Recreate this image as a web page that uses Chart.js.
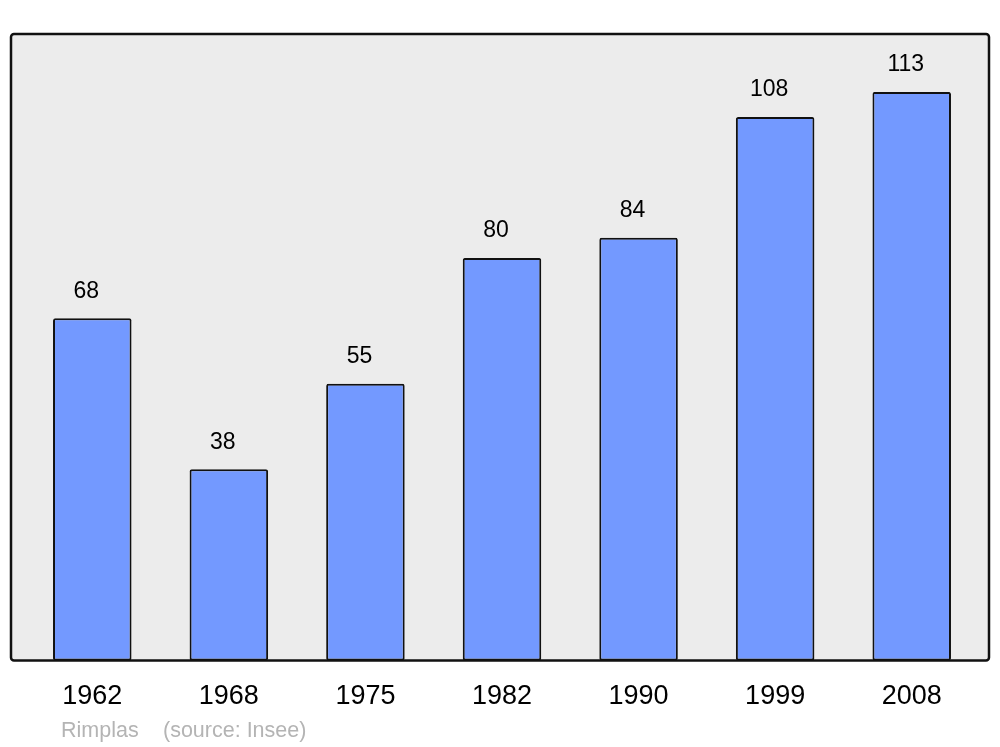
<!DOCTYPE html>
<html>
<head>
<meta charset="utf-8">
<script src="https://cdn.jsdelivr.net/npm/chart.js@4.4.0/dist/chart.umd.min.js"></script>
<style>
    html, body { margin: 0; padding: 0; background: #fff; }
    #wrap { width: 1000px; height: 747px; }
</style>
</head>
<body>
<div id="wrap"><canvas id="chart" width="1000" height="747"></canvas></div>
<script>
// données population
const years = ['1962', '1968', '1975', '1982', '1990', '1999', '2008'];
const population = [68, 38, 55, 80, 84, 108, 113];
const yMax = 124.5;
const footerText = ['Rimplas', '(source: Insee)'];

// fond gris + cadre
const framePlugin = {
    id: 'frame',
    beforeDatasetsDraw(chart) {
        const { ctx, chartArea } = chart;
        ctx.save();
        ctx.beginPath();
        ctx.roundRect(chartArea.left - 13, chartArea.top, chartArea.width + 22, chartArea.height, 3);
        ctx.fillStyle = '#ececec';
        ctx.fill();
        ctx.restore();
    },
    afterDatasetsDraw(chart) {
        const { ctx, chartArea } = chart;
        ctx.save();
        ctx.beginPath();
        ctx.roundRect(chartArea.left - 13, chartArea.top, chartArea.width + 22, chartArea.height, 3);
        ctx.lineWidth = 2.5;
        ctx.strokeStyle = '#111';
        ctx.stroke();

        // valeurs au-dessus des barres
        const meta = chart.getDatasetMeta(0);
        ctx.fillStyle = '#000';
        ctx.font = '23px "Liberation Sans", Arial, sans-serif';
        ctx.textAlign = 'center';
        ctx.textBaseline = 'middle';
        meta.data.forEach((bar, i) => {
            ctx.fillText(population[i], bar.x - 6, bar.y - 27);
        });

        // source
        ctx.fillStyle = '#b4b4b4';
        ctx.font = '21.5px "Liberation Sans", Arial, sans-serif';
        ctx.textAlign = 'left';
        ctx.fillText(footerText[0], 61, 731);
        ctx.fillText(footerText[1], 163, 731);
        ctx.restore();
    }
};

new Chart(document.getElementById('chart'), {
    type: 'bar',
    data: {
        labels: years,
        datasets: [{
            data: population,
            backgroundColor: '#7399ff',
            borderColor: '#111',
            borderWidth: 2,
            borderRadius: 2,
            borderSkipped: false,
            categoryPercentage: 1,
            barPercentage: 0.575
        }]
    },
    plugins: [framePlugin],
    options: {
        responsive: false,
        animation: false,
        layout: { padding: { left: 24, right: 20, top: 34, bottom: 14 } },
        plugins: {
            legend: { display: false },
            tooltip: { enabled: false }
        },
        scales: {
            x: {
                grid: { display: false, drawTicks: false },
                border: { display: false },
                ticks: {
                    color: '#000',
                    padding: 20,
                    font: { family: '"Liberation Sans", Arial, sans-serif', size: 27 }
                }
            },
            y: {
                display: false,
                min: 0,
                max: yMax
            }
        }
    }
});
</script>
</body>
</html>
